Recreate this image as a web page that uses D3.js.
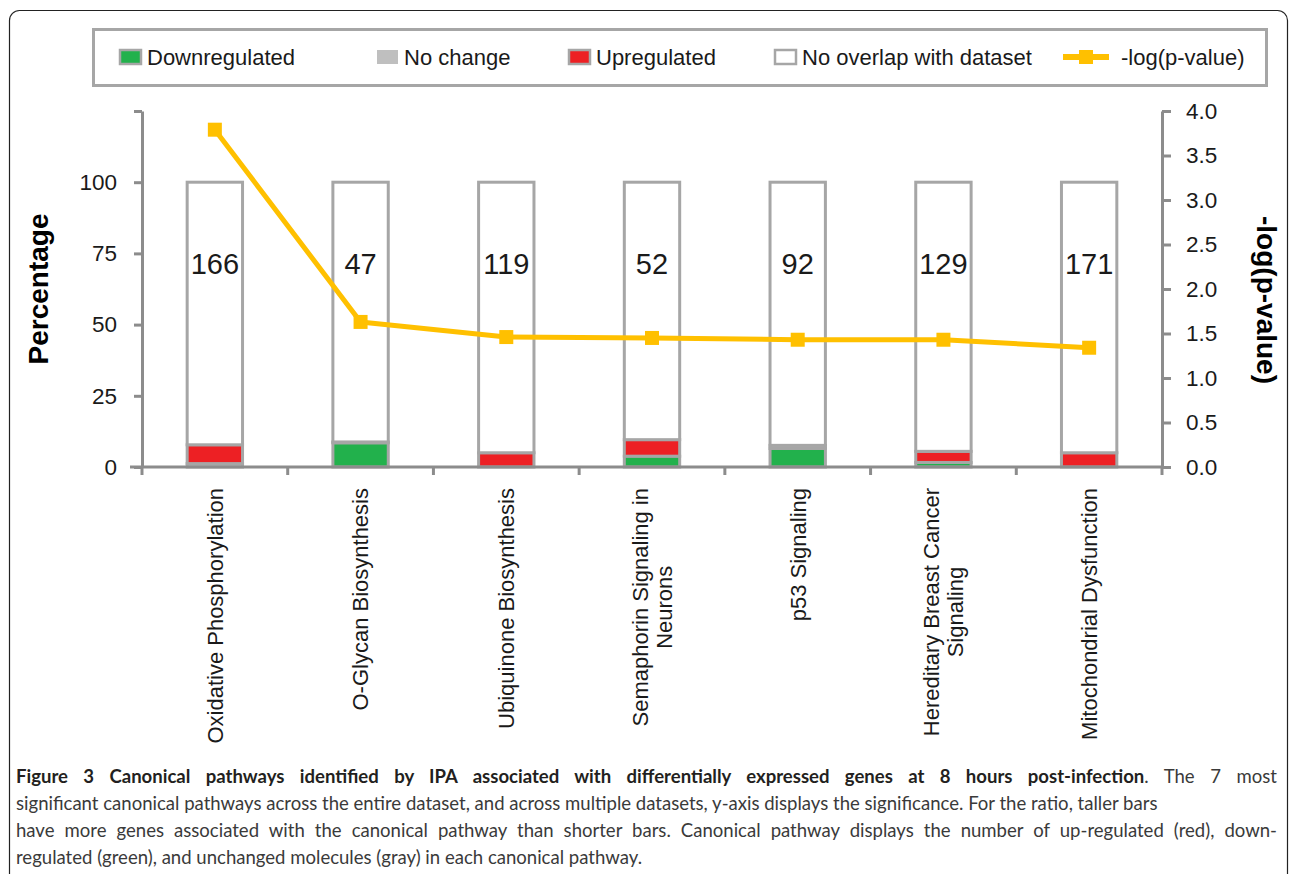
<!DOCTYPE html>
<html>
<head>
<meta charset="utf-8">
<script src="https://cdn.jsdelivr.net/npm/d3@7"></script>
<style>
  body { margin: 0; background: #fff; }
  svg { display: block; }
</style>
</head>
<body>
<div id="chart"></div>
<script>
(function () {

  // categories ("\n" breaks the label in two lines)
  var pathways = ["Oxidative Phosphorylation", "O-Glycan Biosynthesis", "Ubiquinone Biosynthesis",
    "Semaphorin Signaling in\nNeurons", "p53 Signaling", "Hereditary Breast Cancer\nSignaling",
    "Mitochondrial Dysfunction"];

  // percentages of molecules in each pathway
  var downregulated = [0, 8.5, 0, 3.8, 6.5, 1.6, 0];
  var noChange = [1.2, 0.3, 0, 0, 1.1, 0, 0];
  var upregulated = [6.6, 0, 5.0, 5.8, 0, 3.9, 5.0];

  // number of molecules in the pathway (printed on the bar)
  var moleculeCounts = [166, 47, 119, 52, 92, 129, 171];

  // -log(p-value) line
  var negLogP = [3.79, 1.63, 1.46, 1.45, 1.43, 1.43, 1.34];

  var leftTickValues = [0, 25, 50, 75, 100, 125];
  var leftTickLabels = ["0", "25", "50", "75", "100", ""];
  var rightTickValues = [0, 0.5, 1, 1.5, 2, 2.5, 3, 3.5, 4];
  var rightTickLabels = ["0.0", "0.5", "1.0", "1.5", "2.0", "2.5", "3.0", "3.5", "4.0"];

  var legendLabels = ["Downregulated", "No change", "Upregulated", "No overlap with dataset", "-log(p-value)"];

  var captionBold = "Figure 3 Canonical pathways identified by IPA associated with differentially expressed genes at 8 hours post-infection";
  var captionLines = [
    ". The 7 most",
    "significant canonical pathways across the entire dataset, and across multiple datasets, y-axis displays the significance. For the ratio, taller bars",
    "have more genes associated with the canonical pathway than shorter bars. Canonical pathway displays the number of up-regulated (red), down-",
    "regulated (green), and unchanged molecules (gray) in each canonical pathway."
  ];

  var w = 1290;
  var h = 874;

  var plot = { left: 142, right: 1162, top: 111, bottom: 467 };

  var keys = ["down", "none", "up", "rest"];
  var fills = { down: "#22b14c", none: "#bfbfbf", up: "#ed2024", rest: "#ffffff" };
  var barStroke = "#a6a6a6";
  var axisColor = "#8c8c8c";
  var lineColor = "#ffc000";
  var font = "'Liberation Sans', Arial, sans-serif";

  var rows = pathways.map(function (p, i) {
    return {
      name: p,
      down: downregulated[i],
      none: noChange[i],
      up: upregulated[i],
      rest: 100 - downregulated[i] - noChange[i] - upregulated[i]
    };
  });

  var svg = d3.select("#chart")
    .append("svg")
    .attr("width", w)
    .attr("height", h)
    .style("background", "#fff");

  // figure frame
  svg.append("rect")
    .attr("x", 9.5)
    .attr("y", 10.5)
    .attr("width", 1278)
    .attr("height", 920)
    .attr("rx", 10)
    .style("fill", "none")
    .style("stroke", "#222")
    .style("stroke-width", 1.2);

  var xScale = d3.scaleBand()
    .domain(pathways)
    .range([plot.left, plot.right])
    .paddingInner(0.62)
    .paddingOuter(0.31);

  var yScale = d3.scaleLinear()
    .domain([0, 125])
    .range([plot.bottom, plot.top]);

  var yScale_2 = d3.scaleLinear()
    .domain([0, 4])
    .range([plot.bottom, plot.top]);

  // stacked bars
  var stacked = d3.stack().keys(keys)(rows);

  svg.append("g")
    .selectAll("g")
    .data(stacked)
    .enter()
    .append("g")
    .selectAll("rect")
    .data(function (layer) {
      return layer.filter(function (d) { return d[1] - d[0] > 0; })
        .map(function (d) { return { key: layer.key, y0: d[0], y1: d[1], name: d.data.name }; });
    })
    .enter()
    .append("rect")
    .attr("x", function (d) { return xScale(d.name); })
    .attr("width", xScale.bandwidth())
    .attr("y", function (d) { return yScale(d.y1); })
    .attr("height", function (d) { return yScale(d.y0) - yScale(d.y1); })
    .style("fill", function (d) { return fills[d.key]; })
    .style("stroke", barStroke)
    .style("stroke-width", 3);

  // molecule counts inside the bars
  svg.append("g")
    .selectAll("text")
    .data(rows)
    .enter()
    .append("text")
    .attr("x", function (d) { return xScale(d.name) + xScale.bandwidth() / 2; })
    .attr("y", yScale(71.5))
    .attr("dy", "0.36em")
    .attr("text-anchor", "middle")
    .text(function (d, i) { return moleculeCounts[i]; })
    .style("font-family", font)
    .style("font-size", "29px")
    .style("fill", "#1a1a1a");

  // axes
  var yAxis = d3.axisLeft(yScale)
    .tickValues(leftTickValues)
    .tickFormat(function (d, i) { return leftTickLabels[i]; })
    .tickSize(8)
    .tickSizeOuter(0)
    .tickPadding(17);

  var yAxis_2 = d3.axisRight(yScale_2)
    .tickValues(rightTickValues)
    .tickFormat(function (d, i) { return rightTickLabels[i]; })
    .tickSize(9)
    .tickSizeOuter(0)
    .tickPadding(15);

  var xTicks = d3.range(pathways.length + 1).map(function (i) {
    return plot.left + i * xScale.step();
  });

  var xAxisG = svg.append("g").attr("class", "xaxis");
  xAxisG.append("line")
    .attr("x1", plot.left - 12)
    .attr("x2", plot.right)
    .attr("y1", plot.bottom)
    .attr("y2", plot.bottom);
  xAxisG.selectAll(".tick")
    .data(xTicks)
    .enter()
    .append("line")
    .attr("x1", function (d) { return d; })
    .attr("x2", function (d) { return d; })
    .attr("y1", plot.bottom)
    .attr("y2", plot.bottom + 8);
  xAxisG.selectAll("line")
    .style("stroke", axisColor)
    .style("stroke-width", 3);

  svg.append("g")
    .attr("class", "yaxis")
    .attr("transform", "translate(" + plot.left + ",0)")
    .call(yAxis);

  svg.append("g")
    .attr("class", "yaxis")
    .attr("transform", "translate(" + plot.right + ",0)")
    .call(yAxis_2);

  svg.selectAll(".yaxis path, .yaxis line")
    .style("stroke", axisColor)
    .style("stroke-width", 3);
  svg.selectAll(".yaxis text")
    .style("font-family", font)
    .style("font-size", "22.5px")
    .style("fill", "#1a1a1a");

  // category labels, rotated, centred lines, longest line ending near the axis
  var labelG = svg.append("g");
  rows.forEach(function (d) {
    var lines = d.name.split("\n");
    var cx = xScale(d.name) + xScale.bandwidth() / 2;
    var t = labelG.append("text")
      .style("font-family", font)
      .style("font-size", "22px")
      .style("fill", "#1a1a1a")
      .attr("text-anchor", "middle");
    lines.forEach(function (line, j) {
      t.append("tspan")
        .attr("x", 0)
        .attr("y", (j - (lines.length - 1) / 2) * 24)
        .attr("dy", "0.36em")
        .text(line);
    });
    var longest = d3.max(t.selectAll("tspan").nodes(), function (n) { return n.getComputedTextLength(); });
    var cy = plot.bottom + 21 + longest / 2;
    t.attr("transform", "translate(" + cx + "," + cy + ") rotate(-90)");
  });

  // -log(p-value) line
  var line = d3.line()
    .x(function (d, i) { return xScale(pathways[i]) + xScale.bandwidth() / 2; })
    .y(function (d) { return yScale_2(d); });

  svg.append("path")
    .datum(negLogP)
    .attr("d", line)
    .style("fill", "none")
    .style("stroke", lineColor)
    .style("stroke-width", 5)
    .style("stroke-linejoin", "round");

  svg.append("g")
    .selectAll("rect")
    .data(negLogP)
    .enter()
    .append("rect")
    .attr("x", function (d, i) { return xScale(pathways[i]) + xScale.bandwidth() / 2 - 7; })
    .attr("y", function (d) { return yScale_2(d) - 7; })
    .attr("width", 14)
    .attr("height", 14)
    .style("fill", lineColor);

  // axis titles
  svg.append("text")
    .attr("transform", "translate(38,289) rotate(-90)")
    .attr("text-anchor", "middle")
    .attr("dy", "0.36em")
    .text("Percentage")
    .style("font-family", font)
    .style("font-weight", "bold")
    .style("font-size", "28px")
    .style("fill", "#000");

  svg.append("text")
    .attr("transform", "translate(1267,300) rotate(90)")
    .attr("text-anchor", "middle")
    .attr("dy", "0.36em")
    .text("-log(p-value)")
    .style("font-family", font)
    .style("font-weight", "bold")
    .style("font-size", "28px")
    .style("fill", "#000");

  // legend
  var legend = svg.append("g");
  legend.append("rect")
    .attr("x", 93.5)
    .attr("y", 29.5)
    .attr("width", 1173)
    .attr("height", 56)
    .style("fill", "#fff")
    .style("stroke", "#a6a6a6")
    .style("stroke-width", 3);

  var legendX = [119, 376, 568, 774, 1063];
  var legendY = 57;
  legendLabels.forEach(function (label, i) {
    var x = legendX[i];
    if (i < 4) {
      legend.append("rect")
        .attr("x", x + 1)
        .attr("y", legendY - 7)
        .attr("width", 21)
        .attr("height", 14)
        .style("fill", fills[keys[i]])
        .style("stroke", "#a6a6a6")
        .style("stroke-width", i == 1 ? 0 : 2.5);
    } else {
      legend.append("line")
        .attr("x1", x)
        .attr("x2", x + 46)
        .attr("y1", legendY)
        .attr("y2", legendY)
        .style("stroke", lineColor)
        .style("stroke-width", 6);
      legend.append("rect")
        .attr("x", x + 16)
        .attr("y", legendY - 7)
        .attr("width", 14)
        .attr("height", 14)
        .style("fill", lineColor);
    }
    legend.append("text")
      .attr("x", i < 4 ? x + 28 : x + 58)
      .attr("y", legendY)
      .attr("dy", "0.36em")
      .text(label)
      .style("font-family", font)
      .style("font-size", "22px")
      .style("fill", "#1a1a1a");
  });

  // caption
  var capFont = "Lato, 'Open Sans', sans-serif";
  var capX = 16;
  var capRight = 1277;
  var capY = [783, 810, 837, 864];

  var capTexts = captionLines.map(function (txt, i) {
    var t = svg.append("text")
      .attr("x", capX)
      .attr("y", capY[i])
      .style("font-family", capFont)
      .style("font-size", "18px")
      .style("fill", "#3a3a3a");
    if (i == 0) {
      t.append("tspan").text(captionBold).style("font-weight", "bold").style("fill", "#231f20");
      t.append("tspan").text(txt);
    } else {
      t.text(txt);
    }
    return t;
  });

  // fit the font so the second (unjustified) line has the width it has in print
  var fs = 18 * 1142 / capTexts[1].node().getComputedTextLength();
  capTexts.forEach(function (t) { t.style("font-size", fs + "px"); });

  // justify lines 1 and 3
  [0, 2].forEach(function (i) {
    var t = capTexts[i];
    var full = (i == 0 ? captionBold : "") + captionLines[i];
    var spaces = full.split(" ").length - 1;
    var extra = (capRight - capX) - t.node().getComputedTextLength();
    t.style("word-spacing", (extra / spaces) + "px");
  });

})();
</script>
</body>
</html>
